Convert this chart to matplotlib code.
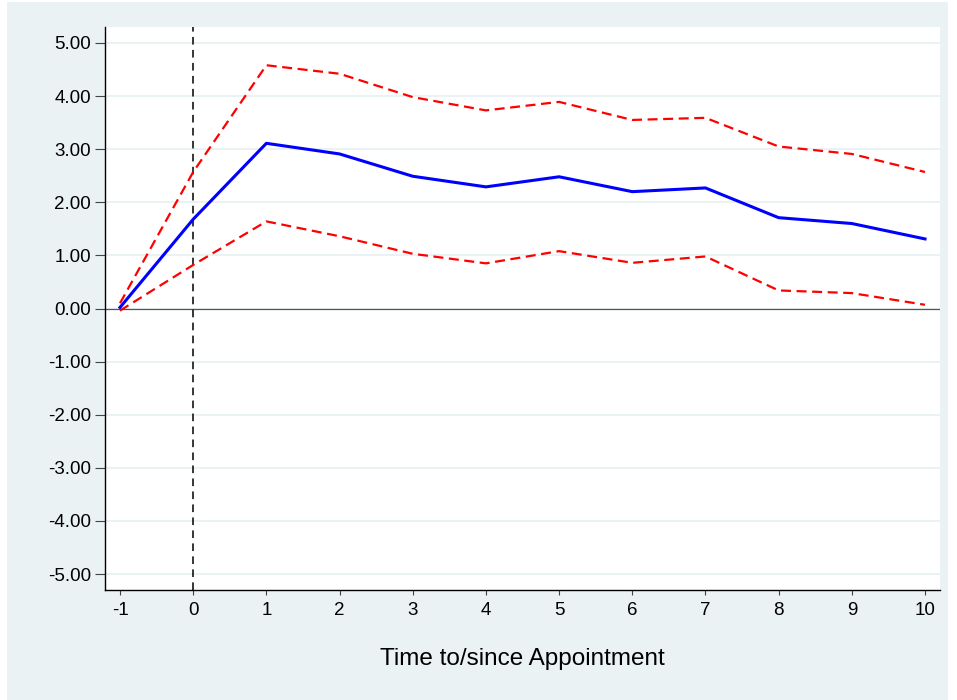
import matplotlib
matplotlib.use("Agg")
import matplotlib.pyplot as plt
from matplotlib.patches import Rectangle

plt.rcParams['font.family'] = ['Liberation Sans', 'DejaVu Sans']
plt.rcParams['axes.unicode_minus'] = False

# event time
periods = [-1, 0, 1, 2, 3, 4, 5, 6, 7, 8, 9, 10]
# point estimate
coef = [0.02, 1.68, 3.11, 2.91, 2.49, 2.29, 2.48, 2.20, 2.27, 1.71, 1.60, 1.31]
# confidence bounds
upper = [0.10, 2.57, 4.58, 4.42, 3.98, 3.73, 3.89, 3.55, 3.59, 3.05, 2.91, 2.57]
lower = [-0.04, 0.82, 1.64, 1.36, 1.03, 0.85, 1.08, 0.86, 0.98, 0.34, 0.29, 0.07]

y_ticks = [-5, -4, -3, -2, -1, 0, 1, 2, 3, 4, 5]

W, H = 957, 700
bg = '#EAF2F3'

fig = plt.figure(figsize=(W / 100, H / 100), dpi=100, facecolor='white')
fig.patches.append(Rectangle((7 / W, 0), 941 / W, 698 / H, transform=fig.transFigure,
                             facecolor=bg, edgecolor='none', zorder=-10))

ax = fig.add_axes([105 / W, (H - 590) / H, 835 / W, 563 / H])
ax.set_facecolor('white')

for yv in y_ticks:
    ax.axhline(yv, color=bg, lw=1.4, zorder=1)
ax.axhline(0, color='#555555', lw=0.9, zorder=2)
ax.axvline(0, color='black', lw=1.1, ls=(0, (5, 3.5)), zorder=2)

ax.plot(periods, upper, color='red', lw=1.6, ls=(0, (4.5, 2.5)), zorder=3)
ax.plot(periods, lower, color='red', lw=1.6, ls=(0, (4.5, 2.5)), zorder=3)
ax.plot(periods, coef, color='blue', lw=2.2, zorder=4)

ax.set_xlim(-1.205, 10.205)
ax.set_ylim(-5.3, 5.3)
ax.set_xticks(periods)
ax.set_yticks(y_ticks)
ax.set_yticklabels(['%.2f' % v for v in y_ticks])

for side in ['top', 'right']:
    ax.spines[side].set_visible(False)
for side in ['left', 'bottom']:
    ax.spines[side].set_color('black')
    ax.spines[side].set_linewidth(1.0)

ax.tick_params(axis='y', length=7, width=0.8, color='#444444', labelsize=13.5, pad=3)
ax.tick_params(axis='x', length=3.5, width=0.8, color='#444444', labelsize=13.5, pad=5)

ax.set_xlabel('Time to/since Appointment', fontsize=17.5, labelpad=21)

fig.savefig('out.png', dpi=100, facecolor='white')
